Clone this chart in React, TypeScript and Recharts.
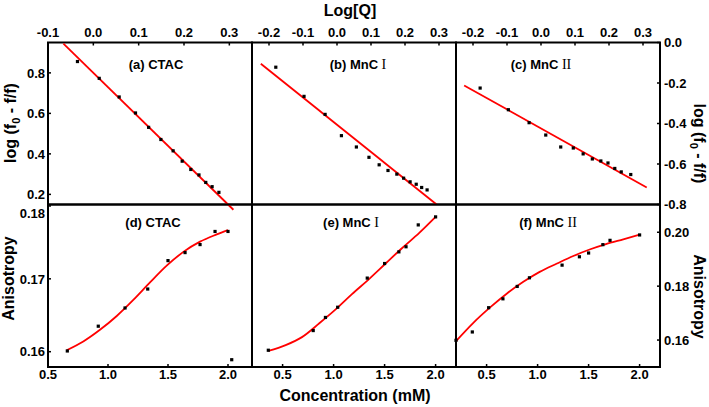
import React from 'react';
import { ComposedChart, Line, Scatter, XAxis, YAxis, ReferenceArea } from 'recharts';

const W = 709;
const H = 407;
const FONT = '"Liberation Sans", Arial, sans-serif';
const SERIF = '"Liberation Serif", "Times New Roman", serif';
const RED = '#ff0000';

// top row: log(f0 - f/f) against Log[Q]
const ctacLogQ = [-0.035, 0.013, 0.057, 0.093, 0.122, 0.149, 0.176, 0.196, 0.215, 0.233, 0.248, 0.262, 0.277];
const ctacLogF = [0.856, 0.773, 0.681, 0.602, 0.531, 0.471, 0.415, 0.364, 0.323, 0.296, 0.259, 0.238, 0.21];
const ctacFitQ = [-0.066, 0.309];
const ctacFitF = [0.944, 0.124];

const mnc1LogQ = [-0.18, -0.097, -0.035, 0.013, 0.057, 0.094, 0.124, 0.15, 0.176, 0.196, 0.215, 0.233, 0.249, 0.265];
const mnc1LogF = [-0.122, -0.266, -0.355, -0.46, -0.516, -0.567, -0.604, -0.632, -0.65, -0.67, -0.688, -0.7, -0.716, -0.728];
const mnc1FitQ = [-0.224, 0.293];
const mnc1FitF = [-0.105, -0.8];

const mnc2LogQ = [-0.179, -0.096, -0.035, 0.014, 0.058, 0.095, 0.124, 0.151, 0.176, 0.197, 0.217, 0.236, 0.264];
const mnc2LogF = [-0.225, -0.332, -0.396, -0.457, -0.516, -0.521, -0.55, -0.575, -0.585, -0.595, -0.622, -0.639, -0.652];
const mnc2FitQ = [-0.226, 0.311];
const mnc2FitF = [-0.212, -0.716];

// bottom row: anisotropy against concentration (mM)
const ctacConc = [0.661, 0.919, 1.142, 1.331, 1.5, 1.642, 1.767, 1.892, 2.0, 2.031];
const ctacAniso = [0.1601, 0.1635, 0.166, 0.1686, 0.1725, 0.1736, 0.1747, 0.1765, 0.1765, 0.1589];
const ctacCurveConc = [0.656, 0.794, 0.933, 1.073, 1.211, 1.35, 1.489, 1.628, 1.767, 1.906, 2.0];
const ctacCurveAniso = [0.1602, 0.1614, 0.163, 0.1649, 0.1671, 0.1695, 0.1718, 0.1737, 0.1751, 0.1761, 0.1767];

const mnc1Conc = [0.36, 0.8, 0.92, 1.04, 1.33, 1.5, 1.64, 1.71, 1.83, 2.0];
const mnc1Aniso = [0.1602, 0.1629, 0.1647, 0.1661, 0.1701, 0.1721, 0.1737, 0.1744, 0.1774, 0.1785];
const mnc1CurveConc = [0.36, 0.53, 0.69, 0.86, 1.02, 1.18, 1.35, 1.51, 1.67, 1.84, 2.0];
const mnc1CurveAniso = [0.1601, 0.1609, 0.162, 0.1639, 0.1658, 0.1679, 0.17, 0.1721, 0.1742, 0.1763, 0.1785];

const mnc2Conc = [0.2, 0.36, 0.52, 0.66, 0.8, 0.92, 1.24, 1.41, 1.5, 1.64, 1.71, 2.0];
const mnc2Aniso = [0.1599, 0.163, 0.172, 0.1753, 0.1799, 0.1831, 0.1878, 0.1909, 0.1923, 0.1954, 0.197, 0.199];
const mnc2CurveConc = [0.2, 0.37, 0.54, 0.7, 0.86, 1.02, 1.19, 1.35, 1.51, 1.67, 1.84, 2.0];
const mnc2CurveAniso = [0.1596, 0.1664, 0.1723, 0.1773, 0.1816, 0.1853, 0.1884, 0.1912, 0.1936, 0.1956, 0.1974, 0.1991];

// tick labels
const logQTicksA = [-0.1, 0, 0.1, 0.2, 0.3];
const logQTicks = [-0.2, -0.1, 0, 0.1, 0.2, 0.3];
const logFTicksLeft = [0.2, 0.4, 0.6, 0.8];
const logFTicksRight = [-0.8, -0.6, -0.4, -0.2, 0];
const concTicks = [0.5, 1, 1.5, 2];
const anisoTicksLeft = [0.16, 0.17, 0.18];
const anisoTicksRight = [0.16, 0.18, 0.2];

const zip = (xs: number[], ys: number[]) => xs.map((x, i) => ({ x, y: ys[i] }));

// plot area edges in page pixels
const COL = [48, 252, 456, 660];
const ROW = [42.5, 204.5, 367];

type XSide = 'top' | 'bottom';
type YSide = 'left' | 'right' | 'none';

interface PanelSpec {
  box: number[];
  xDomain: [number, number];
  yDomain: [number, number];
  frameY?: [number, number];
  xSide: XSide;
  xTicks: number[];
  ySide: YSide;
  yTicks?: number[];
  yDigits?: number;
  yNudge?: (v: number) => number;
  points: { x: number; y: number }[];
  fit: { x: number; y: number }[];
  fitType: 'linear' | 'monotone';
}

const SquareDot = (props: any) => {
  const { cx, cy } = props;
  if (cx == null || cy == null) return null;
  return <rect x={cx - 1.6} y={cy - 1.6} width={3.2} height={3.2} fill="#000" />;
};

const tickText = (side: 'top' | 'bottom' | 'left' | 'right', digits: number, nudge?: (v: number) => number) =>
  (props: any) => {
    const { x, y, payload } = props;
    const v = payload.value as number;
    const dy = side === 'bottom' ? '0.71em' : side === 'top' ? 0 : '0.36em';
    const anchor = side === 'left' ? 'end' : side === 'right' ? 'start' : 'middle';
    return (
      <text x={x} y={y + (nudge ? nudge(v) : 0)} dy={dy} textAnchor={anchor}
        fill="#000" fontSize={13} fontWeight="bold" fontFamily={FONT}>
        {v.toFixed(digits)}
      </text>
    );
  };

// (a) fit line runs a little past the bottom of its frame, so its plot area reaches below it
const aFrameY: [number, number] = [0.15, 0.95];
const aPlotY: [number, number] = [0.113, 0.95];
const aBottom = ROW[1] + (aFrameY[0] - aPlotY[0]) * (ROW[1] - ROW[0]) / (aFrameY[1] - aFrameY[0]);

const panels: PanelSpec[] = [
  {
    box: [COL[0], COL[1], ROW[0], aBottom], xDomain: [-0.1, 0.35], yDomain: aPlotY, frameY: aFrameY,
    xSide: 'top', xTicks: logQTicksA, ySide: 'left', yTicks: logFTicksLeft, yDigits: 1,
    points: zip(ctacLogQ, ctacLogF), fit: zip(ctacFitQ, ctacFitF), fitType: 'linear',
  },
  {
    box: [COL[1], COL[2], ROW[0], ROW[1]], xDomain: [-0.25, 0.35], yDomain: [-0.8, 0],
    xSide: 'top', xTicks: logQTicks, ySide: 'none',
    points: zip(mnc1LogQ, mnc1LogF), fit: zip(mnc1FitQ, mnc1FitF), fitType: 'linear',
  },
  {
    box: [COL[2], COL[3], ROW[0], ROW[1]], xDomain: [-0.25, 0.35], yDomain: [-0.8, 0],
    xSide: 'top', xTicks: logQTicks, ySide: 'right', yTicks: logFTicksRight, yDigits: 1,
    points: zip(mnc2LogQ, mnc2LogF), fit: zip(mnc2FitQ, mnc2FitF), fitType: 'linear',
  },
  {
    box: [COL[0], COL[1], ROW[1], ROW[2]], xDomain: [0.5, 2.2], yDomain: [0.1579, 0.1802],
    xSide: 'bottom', xTicks: concTicks, ySide: 'left', yTicks: anisoTicksLeft, yDigits: 2,
    yNudge: (v) => (Math.abs(v - 0.18) < 1e-9 ? 7 : 0),
    points: zip(ctacConc, ctacAniso), fit: zip(ctacCurveConc, ctacCurveAniso), fitType: 'monotone',
  },
  {
    box: [COL[1], COL[2], ROW[1], ROW[2]], xDomain: [0.2, 2.2], yDomain: [0.1579, 0.1802],
    xSide: 'bottom', xTicks: concTicks, ySide: 'none',
    points: zip(mnc1Conc, mnc1Aniso), fit: zip(mnc1CurveConc, mnc1CurveAniso), fitType: 'monotone',
  },
  {
    box: [COL[2], COL[3], ROW[1], ROW[2]], xDomain: [0.2, 2.2], yDomain: [0.15, 0.2103],
    xSide: 'bottom', xTicks: concTicks, ySide: 'right', yTicks: anisoTicksRight, yDigits: 2,
    points: zip(mnc2Conc, mnc2Aniso), fit: zip(mnc2CurveConc, mnc2CurveAniso), fitType: 'monotone',
  },
];

const AXIS_H = 30;
const AXIS_W = 40;
const TICK_LINE = { stroke: '#000', strokeWidth: 1.5 };

function Panel({ spec }: { spec: PanelSpec }) {
  const [x0, x1, y0, y1] = spec.box;
  const margin = {
    top: y0 - (spec.xSide === 'top' ? AXIS_H : 0),
    bottom: H - y1 - (spec.xSide === 'bottom' ? AXIS_H : 0),
    left: x0 - (spec.ySide === 'left' ? AXIS_W : 0),
    right: W - x1 - (spec.ySide === 'right' ? AXIS_W : 0),
  };
  const frameY = spec.frameY ?? spec.yDomain;
  return (
    <div style={{ position: 'absolute', left: 0, top: 0 }}>
      <ComposedChart width={W} height={H} margin={margin}>
        <XAxis type="number" dataKey="x" orientation={spec.xSide} height={AXIS_H}
          domain={spec.xDomain} ticks={spec.xTicks} interval={0}
          axisLine={false} stroke="#000" tickLine={TICK_LINE}
          tickSize={-3} tickMargin={spec.xSide === 'top' ? 9 : 6}
          tick={tickText(spec.xSide, 1)} />
        {spec.ySide === 'none' ? (
          <YAxis type="number" dataKey="y" hide domain={spec.yDomain} />
        ) : (
          <YAxis type="number" dataKey="y" orientation={spec.ySide} width={AXIS_W}
            domain={spec.yDomain} ticks={spec.yTicks} interval={0}
            axisLine={false} stroke="#000" tickLine={TICK_LINE}
            tickSize={-3} tickMargin={spec.ySide === 'left' ? 6 : 7}
            tick={tickText(spec.ySide, spec.yDigits ?? 1, spec.yNudge)} />
        )}
        {/* panel frame drawn from the axis domains */}
        <ReferenceArea x1={spec.xDomain[0]} x2={spec.xDomain[1]} y1={frameY[0]} y2={frameY[1]}
          fill="none" stroke="#000" strokeWidth={2} strokeOpacity={1} ifOverflow="visible" />
        <Line data={spec.fit} dataKey="y" type={spec.fitType} stroke={RED} strokeWidth={1.8}
          dot={false} activeDot={false} isAnimationActive={false} />
        <Scatter data={spec.points} dataKey="y" shape={SquareDot} isAnimationActive={false} />
      </ComposedChart>
    </div>
  );
}

const PanelLabel = ({ x, y, name, roman }: { x: number; y: number; name: string; roman?: string }) => (
  <text x={x} y={y} textAnchor="middle" fontSize={13}>
    {name}
    {roman && <tspan fontFamily={SERIF} fontWeight="normal" fontSize={14}>{' ' + roman}</tspan>}
  </text>
);

export default function App() {
  return (
    <div style={{ position: 'absolute', left: 0, top: 0, width: W, height: H, background: '#fff' }}>
      {panels.map((p, i) => <Panel key={i} spec={p} />)}
      <svg width={W} height={H} style={{ position: 'absolute', left: 0, top: 0 }}
        fontFamily={FONT} fontWeight="bold" fill="#000">
        <text x={350} y={15.5} textAnchor="middle" fontSize={16}>Log[Q]</text>
        <text x={355} y={400.5} textAnchor="middle" fontSize={16}>Concentration (mM)</text>
        <text transform="translate(16,123) rotate(-90)" textAnchor="middle" fontSize={16}>
          log (f<tspan fontSize={11} dy={4}>0</tspan><tspan dy={-4}> - f/f)</tspan>
        </text>
        <text transform="translate(14,278.5) rotate(-90)" textAnchor="middle" fontSize={16}>Anisotropy</text>
        <text transform="translate(694,143.5) rotate(90)" textAnchor="middle" fontSize={16}>
          log (f<tspan fontSize={11} dy={4}>0</tspan><tspan dy={-4}> - f/f)</tspan>
        </text>
        <text transform="translate(694,296.5) rotate(90)" textAnchor="middle" fontSize={16}>Anisotropy</text>
        <PanelLabel x={156} y={68.5} name="(a) CTAC" />
        <PanelLabel x={358} y={68.5} name="(b) MnC" roman="I" />
        <PanelLabel x={541} y={68.5} name="(c) MnC" roman="II" />
        <PanelLabel x={153} y={226.5} name="(d) CTAC" />
        <PanelLabel x={351} y={226.5} name="(e) MnC" roman="I" />
        <PanelLabel x={548} y={226.5} name="(f) MnC" roman="II" />
      </svg>
    </div>
  );
}
